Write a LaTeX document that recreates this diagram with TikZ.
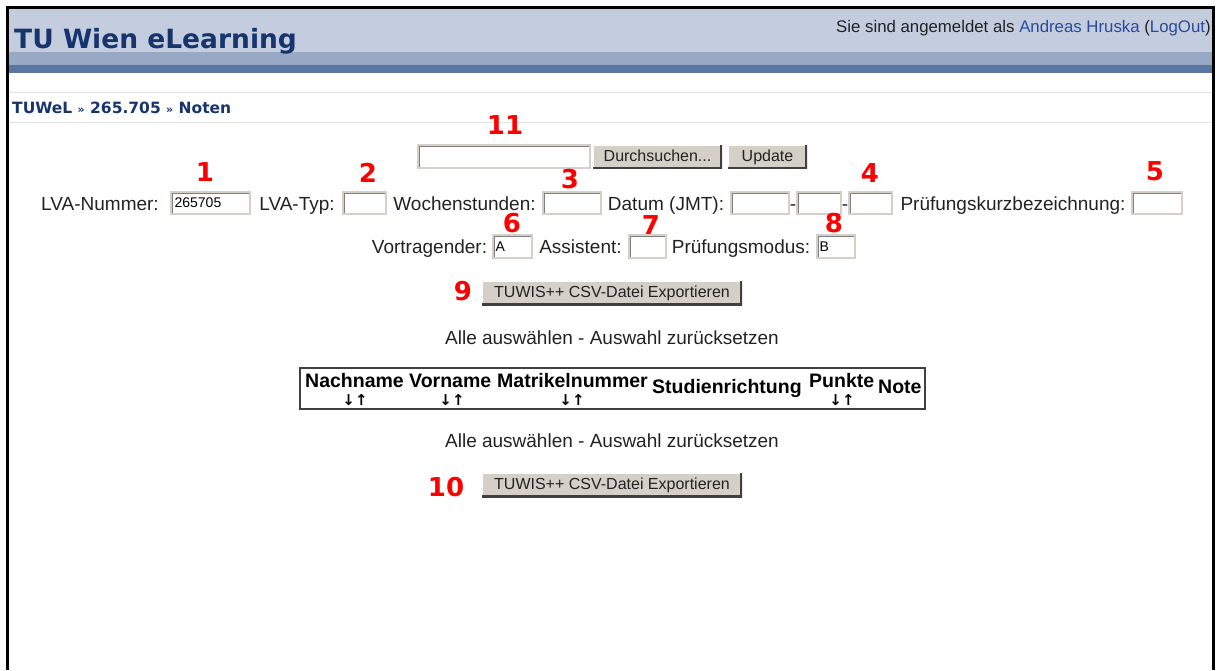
\documentclass[tikz,border=0pt]{standalone}
\usepackage{fontspec}
\setmainfont{Liberation Sans}
\newfontfamily\dv{DejaVu Sans}
\definecolor{hdrlight}{HTML}{C3CDDE}
\definecolor{hdrmid}{HTML}{98A9C6}
\definecolor{hdrdark}{HTML}{5A76A2}
\definecolor{navy}{HTML}{17346C}
\definecolor{linkblue}{HTML}{2A4A9E}
\definecolor{bodytxt}{HTML}{222222}
\definecolor{numred}{HTML}{FF0000}
\definecolor{boxlight}{HTML}{D4D0C8}
\definecolor{boxdark}{HTML}{808080}
\definecolor{btnface}{HTML}{D4D0C8}
\definecolor{btnshadow}{HTML}{404040}
\definecolor{rulegrey}{HTML}{E2E2E2}
\begin{document}
\begin{tikzpicture}[x=1pt,y=-1pt,
  txt/.style={anchor=base, inner sep=0, font=\fontsize{19}{22}\selectfont, text=bodytxt},
  ctxt/.style={anchor=base, inner sep=0, font=\fontsize{19}{22}\selectfont, text=bodytxt},
  hdr/.style={anchor=base west, inner sep=0, font=\bfseries\fontsize{19.5}{22}\selectfont, text=black},
  sortarr/.style={anchor=base, inner sep=0, font=\dv\bfseries\fontsize{15}{17}\selectfont, text=black},
  num/.style={anchor=center, inner sep=0, font=\dv\bfseries\fontsize{26}{30}\selectfont, text=numred},
  intxt/.style={anchor=west, inner sep=0, font=\fontsize{14}{16}\selectfont, text=black},
  titletxt/.style={anchor=base west, inner sep=0, font=\dv\bfseries\fontsize{26.5}{30}\selectfont},
  inbox/.style={draw=boxlight, fill=white, line width=1.2pt, minimum height=23pt, inner sep=0,
    path picture={\draw[line width=3pt, boxdark]
      (path picture bounding box.south west) -- (path picture bounding box.north west)
      -- (path picture bounding box.north east);}},
  btn/.style={fill=btnface, minimum height=24pt, inner sep=0, text height=11.5pt, text depth=2.5pt,
    font=\fontsize{16}{18}\selectfont, text=bodytxt,
    path picture={
      \draw[line width=2.5pt, white]
        (path picture bounding box.south west) -- (path picture bounding box.north west)
        -- (path picture bounding box.north east);
      \draw[line width=3.5pt, btnshadow]
        (path picture bounding box.south west) -- (path picture bounding box.south east)
        -- (path picture bounding box.north east);}}
]
\useasboundingbox (0,0) rectangle (1217,670);
% header bands
\fill[hdrlight] (9,9) rectangle (1212,52);
\fill[hdrmid] (9,52) rectangle (1212,65);
\fill[hdrdark] (9,65) rectangle (1212,73);
% grey rules
\draw[rulegrey, line width=1pt] (9,92) -- (1212,92);
\draw[rulegrey, line width=1pt] (9,122) -- (1212,122);
% outer frame
\draw[black, line width=3pt] (7.5,670) -- (7.5,7.5) -- (1213.5,7.5) -- (1213.5,670);
% title
\node[titletxt, text=navy] (title) at (14,48) {TU Wien eLearning};
\node[anchor=base west, inner sep=0, font=\fontsize{16.8}{19}\selectfont, text=bodytxt] (login) at (836,32)
  {Sie sind angemeldet als \textcolor{linkblue}{Andreas Hruska} (\textcolor{linkblue}{LogOut})};
% breadcrumb
\node[anchor=base west, inner sep=0, font=\dv\bfseries\fontsize{15.5}{18}\selectfont, text=navy] (crumb) at (12,113)
  {TUWeL {\fontsize{11}{12}\selectfont »} 265.705 {\fontsize{11}{12}\selectfont »} Noten};
% row 0: file upload
\node[inbox, minimum width=172pt] (file) at (504,156.5) {};
\node[btn, minimum width=129pt] (browse) at (657.5,156.5) {Durchsuchen...};
\node[btn, minimum width=79pt] (update) at (767.5,156.5) {Update};
\node[num] (n11) at (505,125) {11};
% row 1
\node[txt] (lvanr) at (100,210) {LVA-Nummer:};
\node[inbox, minimum width=79pt, minimum height=22pt] (b1) at (210.5,203) {};
\node[intxt] (b1t) at ([xshift=4pt]b1.west) {265705};
\node[txt] (lvatyp) at (297,210) {LVA-Typ:};
\node[inbox, minimum width=43pt, minimum height=22pt] (b2) at (364.5,203) {};
\node[txt] (wst) at (464.5,210) {Wochenstunden:};
\node[inbox, minimum width=58pt, minimum height=22pt] (b3) at (572,203) {};
\node[txt] (datum) at (666,210) {Datum (JMT):};
\node[inbox, minimum width=58pt, minimum height=22pt] (b4a) at (760,203) {};
\node[txt] (dash1) at (793,210) {-};
\node[inbox, minimum width=44pt, minimum height=22pt] (b4b) at (819,203) {};
\node[txt] (dash2) at (845,210) {-};
\node[inbox, minimum width=43pt, minimum height=22pt] (b4c) at (870.5,203) {};
\node[txt] (pkb) at (1013,210) {Prüfungskurzbezeichnung:};
\node[inbox, minimum width=50pt, minimum height=22pt] (b5) at (1157,203) {};
\node[num] (n1) at (205,172) {1};
\node[num] (n2) at (368,173) {2};
\node[num] (n3) at (570,179) {3};
\node[num] (n4) at (870,173) {4};
\node[num] (n5) at (1155,171) {5};
% row 2
\node[txt] (vortr) at (429.5,253) {Vortragender:};
\node[inbox, minimum width=39pt] (b6) at (512.5,246.5) {};
\node[intxt] (b6t) at ([xshift=3pt]b6.west) {A};
\node[txt] (assist) at (580.5,253) {Assistent:};
\node[inbox, minimum width=37pt] (b7) at (647.5,246.5) {};
\node[txt] (pmod) at (741,253) {Prüfungsmodus:};
\node[inbox, minimum width=38pt] (b8) at (836,246.5) {};
\node[intxt] (b8t) at ([xshift=3pt]b8.west) {B};
\node[num] (n6) at (512,223) {6};
\node[num] (n7) at (651,225) {7};
\node[num] (n8) at (834,223) {8};
% export button 1
\node[btn, minimum width=260pt] (exp1) at (612,293) {TUWIS++ CSV-Datei Exportieren};
\node[num] (n9) at (463,291) {9};
\node[ctxt] (sel1) at (612,344) {Alle auswählen - Auswahl zurücksetzen};
% table
\node[draw=black!75, line width=1.5pt, minimum width=625pt, minimum height=41pt, inner sep=0] (tbl) at (612.5,388.5) {};
\node[hdr] (h1) at (305,387) {Nachname};
\node[hdr] (h2) at (409,387) {Vorname};
\node[hdr] (h3) at (497,387) {Matrikelnummer};
\node[hdr] (h4) at (652,393) {Studienrichtung};
\node[hdr] (h5) at (809,387) {Punkte};
\node[hdr] (h6) at (878,393) {Note};
\node[sortarr] (s1) at (355,405) {↓↑};
\node[sortarr] (s2) at (452,405) {↓↑};
\node[sortarr] (s3) at (572,405) {↓↑};
\node[sortarr] (s5) at (842,405) {↓↑};
\node[ctxt] (sel2) at (612,447) {Alle auswählen - Auswahl zurücksetzen};
% export button 2
\node[btn, minimum width=260pt] (exp2) at (612,485) {TUWIS++ CSV-Datei Exportieren};
\node[num] (n10) at (446,487) {10};
\end{tikzpicture}
\end{document}
